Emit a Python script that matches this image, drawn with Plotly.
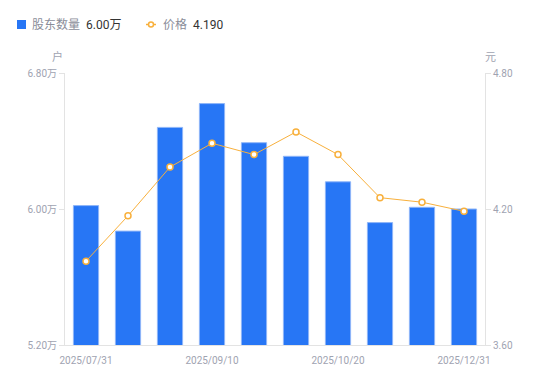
import plotly.graph_objects as go

dates = ["2025/07/31", "2025/08/20", "2025/08/31", "2025/09/10", "2025/09/19",
         "2025/09/30", "2025/10/20", "2025/10/31", "2025/11/28", "2025/12/31"]
holders = [6.02, 5.87, 6.48, 6.62, 6.39, 6.31, 6.16, 5.92, 6.01, 6.00]  # 万户
price = [3.97, 4.17, 4.385, 4.49, 4.44, 4.54, 4.44, 4.25, 4.23, 4.19]
xtick_labels = ["2025/07/31", "2025/09/10", "2025/10/20", "2025/12/31"]
left_ticks = [5.20, 6.00, 6.80]
right_ticks = [3.60, 4.20, 4.80]

font = "Roboto, 'Noto Sans CJK SC', sans-serif"
grey = "#a0a3b1"
axis_c = "#e3e3e3"

fig = go.Figure()
fig.add_trace(go.Bar(
    x=dates, y=holders, name="股东数量", width=0.6,
    marker=dict(color="#2776f5", line=dict(color="#8fb6f8", width=1)),
    yaxis="y", showlegend=False))
fig.add_trace(go.Scatter(
    x=dates, y=price, name="价格", mode="lines+markers",
    line=dict(color="#f8b03c", width=1),
    marker=dict(size=6, color="white", line=dict(color="#f8b03c", width=1.5)),
    yaxis="y2", showlegend=False))

fig.update_layout(
    width=550, height=381,
    margin=dict(l=57, r=73, t=65, b=44),
    plot_bgcolor="white", paper_bgcolor="white",
    font=dict(family=font, size=10, color=grey),
    bargap=0.4,
    xaxis=dict(type="category", tickvals=xtick_labels, ticktext=xtick_labels,
               showline=True, linecolor=axis_c, ticks="", showgrid=False,
               ticklabelstandoff=6,
               tickfont=dict(size=10, color=grey), range=[-0.5, 9.5]),
    yaxis=dict(range=[5.2, 6.8], tickvals=left_ticks,
               ticktext=[f"{v:.2f}万" for v in left_ticks],
               showline=True, linecolor=axis_c, ticks="outside", ticklen=5,
               tickcolor=axis_c, showgrid=False, zeroline=False,
               tickfont=dict(size=10, color=grey)),
    yaxis2=dict(range=[3.6, 4.8], tickvals=right_ticks,
                ticktext=[f"{v:.2f}" for v in right_ticks],
                overlaying="y", side="right",
                showline=True, linecolor=axis_c, ticks="outside", ticklen=5,
                tickcolor=axis_c, showgrid=False, zeroline=False,
                tickfont=dict(size=10, color=grey)),
    showlegend=False,
)

# axis unit labels
fig.add_annotation(text="户", xref="paper", yref="paper", x=-0.017, y=1.0, yshift=16,
                   showarrow=False, font=dict(size=11, color=grey), xanchor="center", yanchor="middle")
fig.add_annotation(text="元", xref="paper", yref="paper", x=1.012, y=1.0, yshift=16,
                   showarrow=False, font=dict(size=11, color=grey), xanchor="center", yanchor="middle")

# custom legend
ly = (345 - 24.5) / 272
fig.add_shape(type="rect", xref="paper", yref="paper",
              x0=(17 - 65) / 420, x1=(26 - 65) / 420,
              y0=(345 - 29) / 272, y1=(345 - 20) / 272,
              fillcolor="#2776f5", line=dict(width=0))
fig.add_annotation(text="股东数量", xref="paper", yref="paper", x=(30 - 65) / 420, y=ly,
                   showarrow=False, xanchor="left", yanchor="middle", font=dict(size=12, color="#8a8d99"))
fig.add_annotation(text="6.00万", xref="paper", yref="paper", x=(84 - 65) / 420, y=ly,
                   showarrow=False, xanchor="left", yanchor="middle", font=dict(size=12, color="#333333"))
fig.add_shape(type="line", xref="paper", yref="paper",
              x0=(146 - 65) / 420, x1=(156 - 65) / 420,
              y0=ly, y1=ly,
              line=dict(color="#f8b03c", width=1.5))
fig.add_shape(type="circle", xref="paper", yref="paper",
              x0=(148.5 - 65) / 420, x1=(153.5 - 65) / 420,
              y0=(345 - 27) / 272, y1=(345 - 22) / 272,
              fillcolor="white", line=dict(color="#f8b03c", width=1.5))
fig.add_annotation(text="价格", xref="paper", yref="paper", x=(161 - 65) / 420, y=ly,
                   showarrow=False, xanchor="left", yanchor="middle", font=dict(size=12, color="#8a8d99"))
fig.add_annotation(text="4.190", xref="paper", yref="paper", x=(191 - 65) / 420, y=ly,
                   showarrow=False, xanchor="left", yanchor="middle", font=dict(size=12, color="#333333"))

fig.write_html("out.html")
